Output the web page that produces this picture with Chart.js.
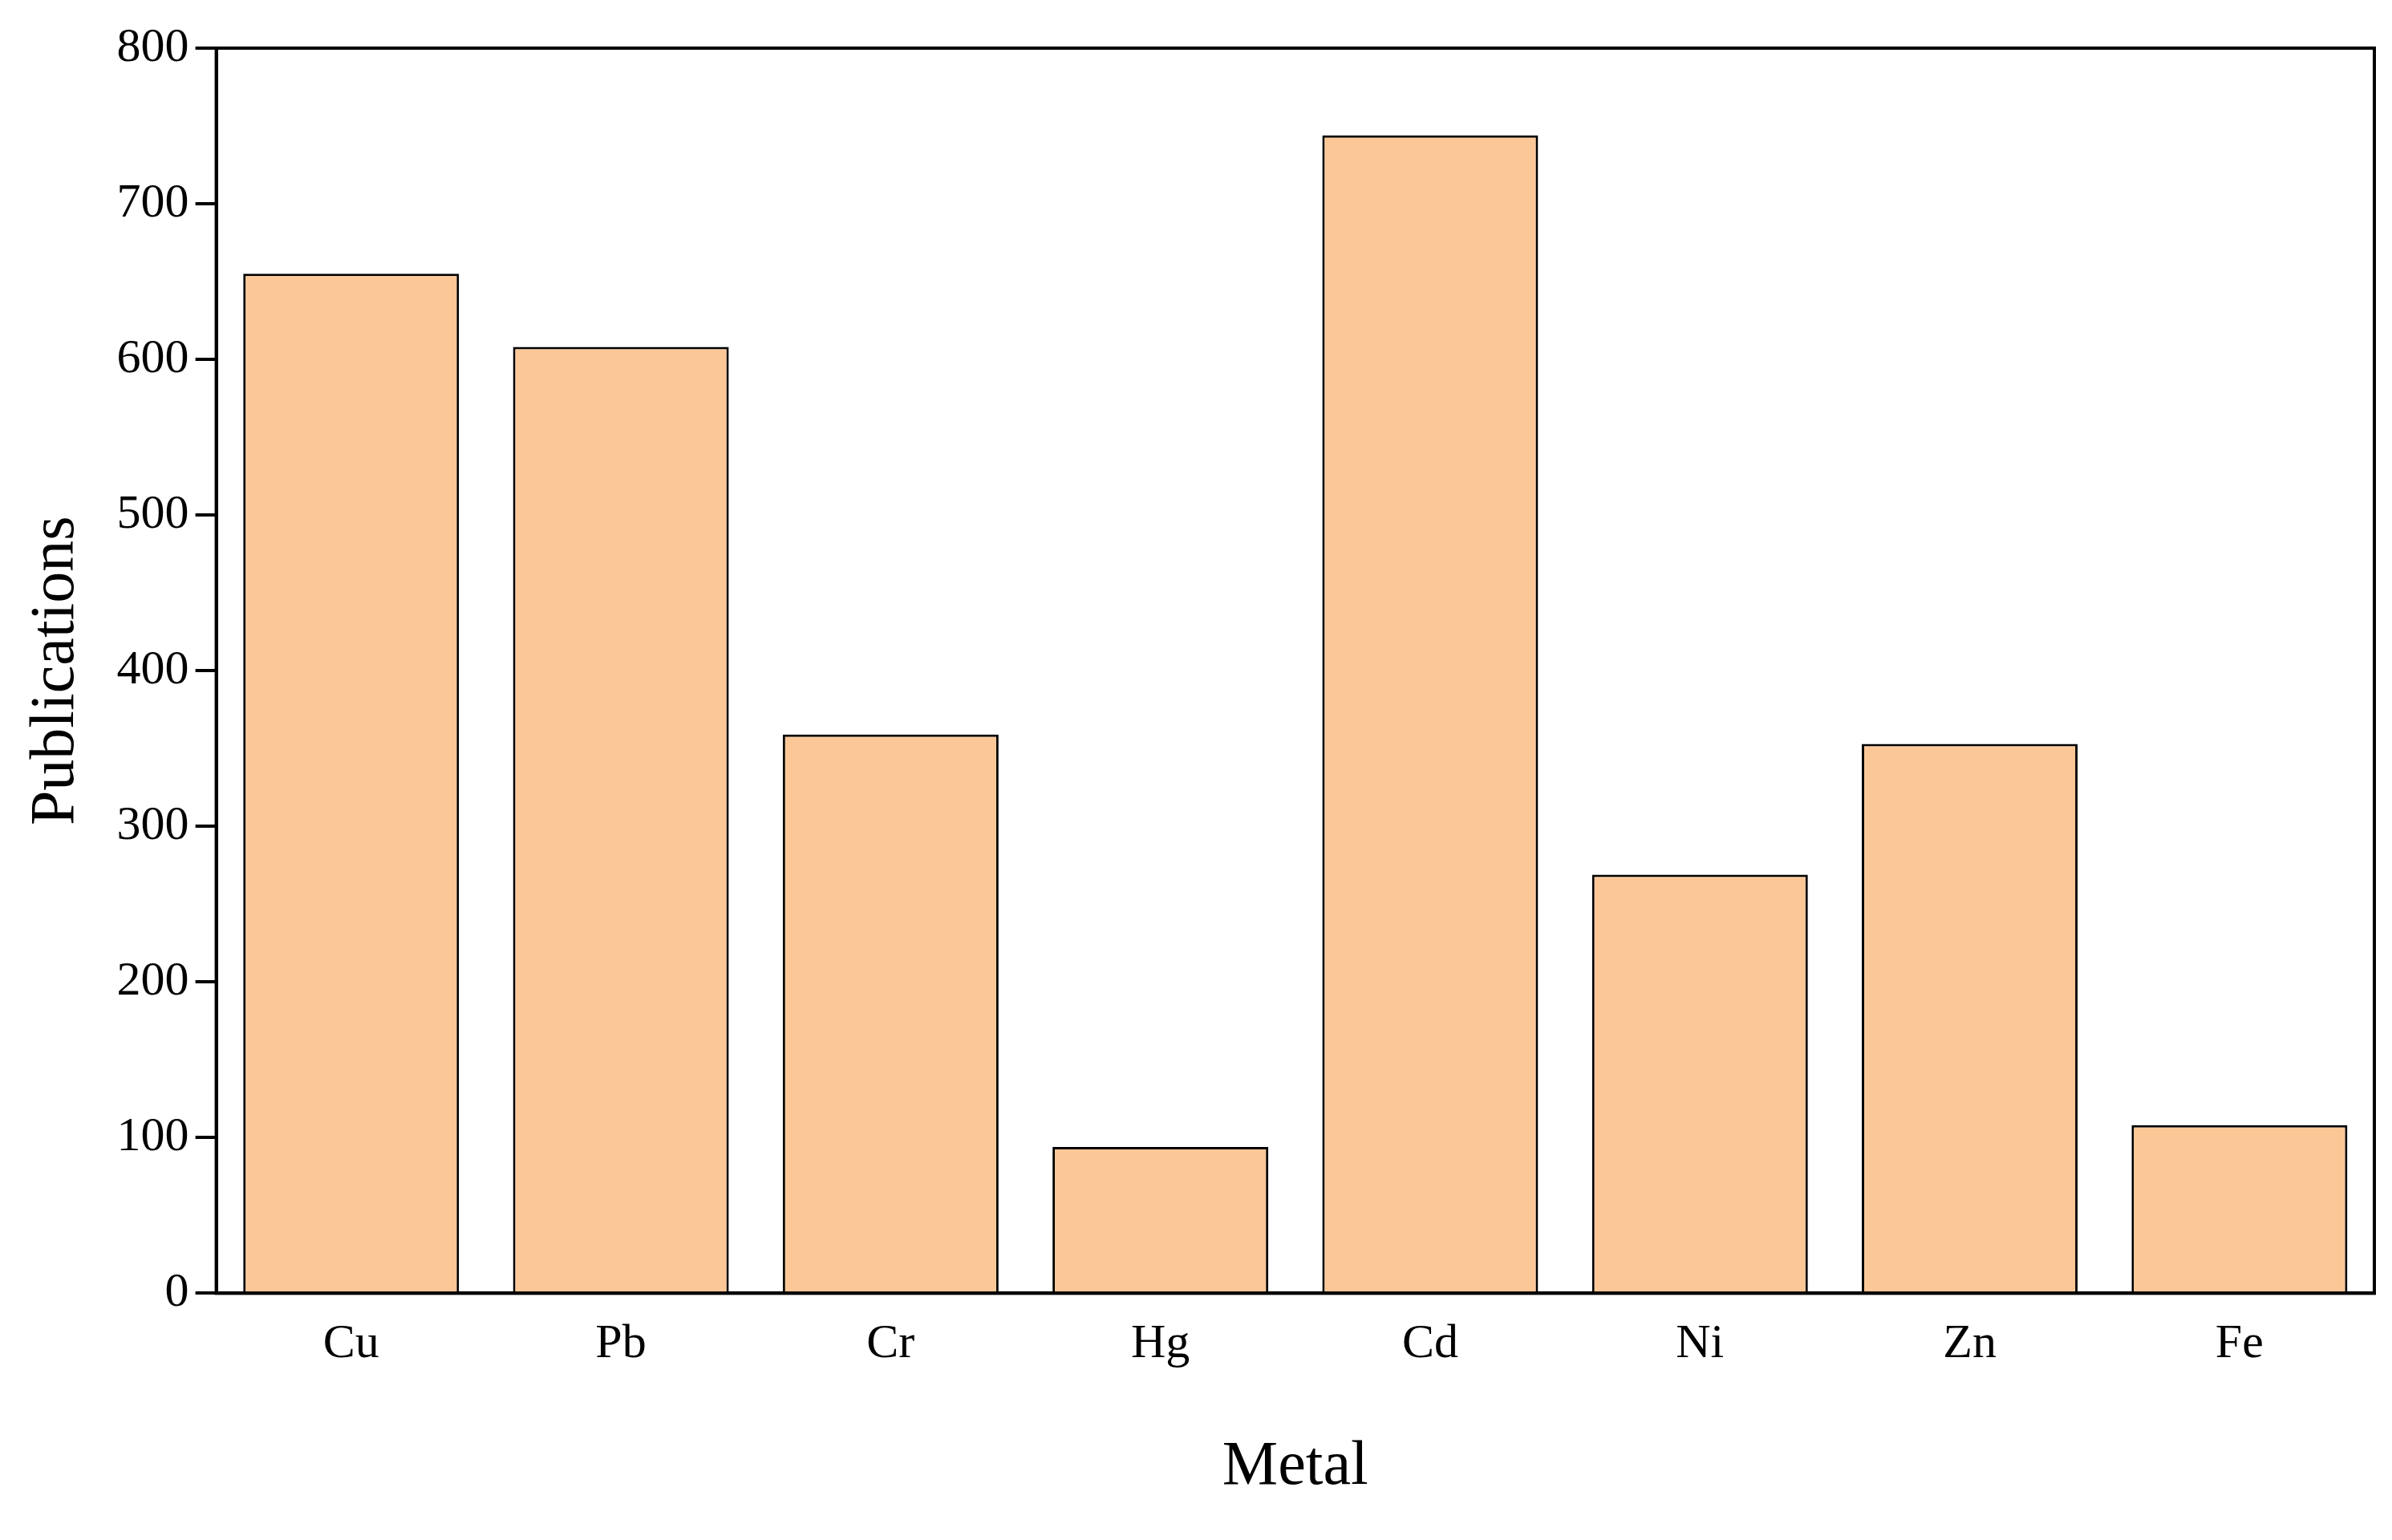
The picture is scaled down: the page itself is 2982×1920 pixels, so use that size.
<!DOCTYPE html>
<html><head><meta charset="utf-8">
<script src="https://cdn.jsdelivr.net/npm/chart.js@4/dist/chart.umd.min.js"></script>
<style>html,body{margin:0;padding:0;background:#fff}</style>
</head><body>
<canvas id="c" width="2982" height="1920"></canvas>
<script>
const categories = ["Cu","Pb","Cr","Hg","Cd","Ni","Zn","Fe"];
const publications = [655, 608, 359, 94, 744, 269, 353, 108];
const yTicks = [0,100,200,300,400,500,600,700,800];

const frame = {
  id:'frame',
  afterDraw(ch){
    const a=ch.chartArea, c=ch.ctx;
    c.save(); c.strokeStyle='#000'; c.lineWidth=4;
    c.strokeRect(a.left,a.top,a.right-a.left,a.bottom-a.top);
    c.restore();
  }
};

new Chart(document.getElementById('c'), {
  type:'bar',
  data:{labels:categories,datasets:[{data:publications,backgroundColor:'#FCC797',borderColor:'#000',borderWidth:3,barPercentage:0.8,categoryPercentage:1.0}]},
  options:{
    responsive:false, devicePixelRatio:1, animation:false,
    layout:{padding:{top:60,right:22,left:20,bottom:40}},
    plugins:{legend:{display:false},tooltip:{enabled:false}},
    scales:{
      x:{grid:{display:false},border:{color:'#000',width:4},
         ticks:{color:'#000',font:{family:'Liberation Serif',size:60},padding:20},
         title:{display:true,text:'Metal',color:'#000',font:{family:'Liberation Serif',size:78},padding:{top:50}}},
      y:{min:0,max:800,afterBuildTicks(s){s.ticks=yTicks.map(v=>({value:v}));},
         grid:{drawOnChartArea:false,tickLength:26,tickColor:'#000',lineWidth:4},border:{color:'#000',width:4},
         ticks:{color:'#000',font:{family:'Liberation Serif',size:60},padding:8},
         title:{display:true,text:'Publications',color:'#000',font:{family:'Liberation Serif',size:78},padding:{bottom:20}}}
    }
  },
  plugins:[frame]
});
</script>
</body></html>
